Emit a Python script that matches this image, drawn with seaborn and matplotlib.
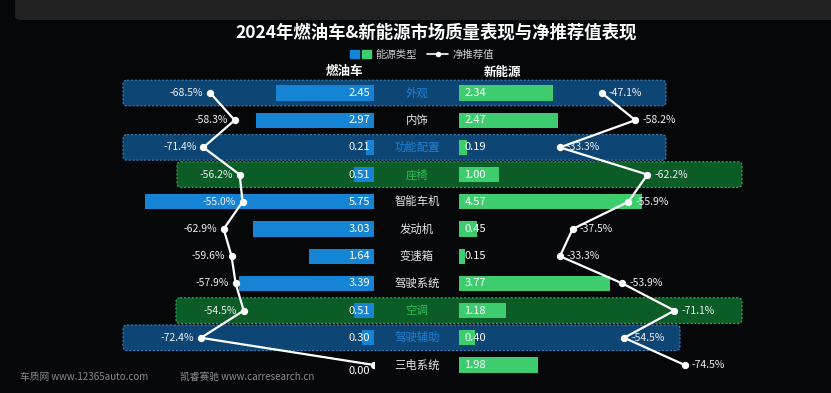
import numpy as np
import matplotlib
matplotlib.use('Agg')
import matplotlib.pyplot as plt
import seaborn as sns
from matplotlib.patches import FancyBboxPatch, Patch
from matplotlib.lines import Line2D
from matplotlib.legend_handler import HandlerTuple

# 数据
categories = ['外观', '内饰', '功能配置', '座椅', '智能车机', '发动机', '变速箱',
              '驾驶系统', '空调', '驾驶辅助', '三电系统']
fuel_quality = [2.45, 2.97, 0.21, 0.51, 5.75, 3.03, 1.64, 3.39, 0.51, 0.30, 0.00]
nev_quality = [2.34, 2.47, 0.19, 1.00, 4.57, 0.45, 0.15, 3.77, 1.18, 0.40, 1.98]
fuel_nps = [-68.5, -58.3, -71.4, -56.2, -55.0, -62.9, -59.6, -57.9, -54.5, -72.4, 0.0]
nev_nps = [-47.1, -58.2, -33.3, -62.2, -55.9, -37.5, -33.3, -53.9, -71.1, -54.5, -74.5]
blue_rows = ['外观', '功能配置', '驾驶辅助']
green_rows = ['座椅', '空调']

title = '2024年燃油车&新能源市场质量表现与净推荐值表现'

# 样式
sns.set_theme(style='white')
plt.rcParams['font.family'] = ['Noto Sans CJK SC', 'DejaVu Sans']

BG = '#060709'
BLUE = '#1684d4'
GREEN = '#3dcc6e'
W, H = 831, 393

fig = plt.figure(figsize=(W / 100, H / 100), dpi=100, facecolor=BG)

# 顶部灰条
fig.patches.append(FancyBboxPatch((15 / W, 1 - 20 / H), 1, 0.1, boxstyle='round,pad=0,rounding_size=0.01',
                                  transform=fig.transFigure, facecolor='#212121', edgecolor='none'))

n = len(categories)
rows = np.arange(n)
row_top, row_h = 79.4, 27.2
ax_b = 1 - (row_top + n * row_h) / H
ax_h = n * row_h / H

# 背景层：高亮框和类别名
bg = fig.add_axes([0, ax_b, 1, ax_h])
bg.set_xlim(0, W)
bg.set_ylim(n - 0.5, -0.5)
bg.axis('off')
box_span = {'外观': (123, 666), '功能配置': (123, 666), '驾驶辅助': (123, 680),
            '座椅': (177, 742), '空调': (176, 742)}
for i, c in enumerate(categories):
    col = '#e6e6e6'
    if c in box_span:
        x0, x1 = box_span[c]
        if c in blue_rows:
            fc, ec, col = '#0d4674', '#3a7fb8', '#1f80d6'
        else:
            fc, ec, col = '#0b5c27', '#35a852', '#2ebd55'
        bg.add_patch(FancyBboxPatch((x0, i - 0.47), x1 - x0, 0.94,
                                    boxstyle='round,pad=0,rounding_size=4', mutation_aspect=1 / row_h,
                                    facecolor=fc, edgecolor=ec, lw=0.8, ls=(0, (2, 1.5)), zorder=1))
    bg.text(417, i, c, ha='center', va='center', fontsize=8.2, color=col, zorder=3)

# 燃油车柱子（向左）
axl = fig.add_axes([134 / W, ax_b, 240 / W, ax_h])
axl.patch.set_alpha(0)
sns.barplot(x=fuel_quality, y=categories, order=categories, orient='h', color=BLUE,
            saturation=1, width=0.56, edgecolor='none', linewidth=0, ax=axl)
axl.set_xlim(240 / 39.8, 0)
axl.set_ylim(n - 0.5, -0.5)
for i, v in enumerate(fuel_quality):
    dy = -4 if v == 0 else 0
    axl.annotate(f'{v:.2f}', xy=(0, i), xytext=(-3, dy), textcoords='offset points',
                 ha='right', va='center', fontsize=8, color='white')

# 新能源柱子（向右）
axr = fig.add_axes([459 / W, ax_b, 240 / W, ax_h])
axr.patch.set_alpha(0)
sns.barplot(x=nev_quality, y=categories, order=categories, orient='h', color=GREEN,
            saturation=1, width=0.56, edgecolor='none', linewidth=0, ax=axr)
axr.set_xlim(0, 240 / 40)
axr.set_ylim(n - 0.5, -0.5)
for i, v in enumerate(nev_quality):
    axr.annotate(f'{v:.2f}', xy=(0, i), xytext=(4, 0), textcoords='offset points',
                 ha='left', va='center', fontsize=8, color='white')

# 净推荐值折线
axl2 = fig.add_axes([134 / W, ax_b, 240 / W, ax_h])
axl2.patch.set_alpha(0)
sns.lineplot(x=fuel_nps, y=rows, sort=False, estimator=None, color='white', lw=1.6,
             marker='o', markersize=4.5, markeredgecolor='white', ax=axl2)
axl2.set_xlim(-240 / 2.39, 0)
axl2.set_ylim(n - 0.5, -0.5)
for i, v in enumerate(fuel_nps):
    if v != 0:
        axl2.annotate(f'{v:.1f}%', xy=(v, i), xytext=(-5, 0), textcoords='offset points',
                      ha='right', va='center', fontsize=7.5, color='#eeeeee')

axr2 = fig.add_axes([459 / W, ax_b, 240 / W, ax_h])
axr2.patch.set_alpha(0)
sns.lineplot(x=nev_nps, y=rows, sort=False, estimator=None, color='white', lw=1.6,
             marker='o', markersize=4.5, markeredgecolor='white', ax=axr2)
axr2.set_xlim(0, -240 / 3.03)
axr2.set_ylim(n - 0.5, -0.5)
for i, v in enumerate(nev_nps):
    axr2.annotate(f'{v:.1f}%', xy=(v, i), xytext=(5, 0), textcoords='offset points',
                  ha='left', va='center', fontsize=7.5, color='#eeeeee')

for ax in [axl, axr, axl2, axr2]:
    ax.axis('off')

# 标题、图例、表头
fig.text(436 / W, 1 - 33 / H, title, ha='center', va='center', fontsize=12.5,
         fontweight='bold', color='white')
handles = [(Patch(color=BLUE), Patch(color=GREEN)),
           Line2D([], [], color='white', lw=1.2, marker='o', markersize=3)]
fig.legend(handles=handles, labels=['能源类型', '净推荐值'], loc='center',
           bbox_to_anchor=(422 / W, 1 - 55 / H), ncol=2, frameon=False, fontsize=7.5,
           labelcolor='#cccccc', handler_map={tuple: HandlerTuple(ndivide=None, pad=0.3)},
           handlelength=2.0, handleheight=0.8, columnspacing=1.0, handletextpad=0.4)
fig.text(344 / W, 1 - 72 / H, '燃油车', ha='center', va='center', fontsize=9,
         fontweight='bold', color='white')
fig.text(502 / W, 1 - 72 / H, '新能源', ha='center', va='center', fontsize=9,
         fontweight='bold', color='white')

# 页脚
fig.text(20 / W, 1 - 377 / H, '车质网 www.12365auto.com', ha='left', va='center',
         fontsize=7, color='#8a8a8a')
fig.text(180 / W, 1 - 377 / H, '凯睿赛驰 www.carresearch.cn', ha='left', va='center',
         fontsize=7, color='#8a8a8a')

fig.savefig('out.png', dpi=100, facecolor=BG)
